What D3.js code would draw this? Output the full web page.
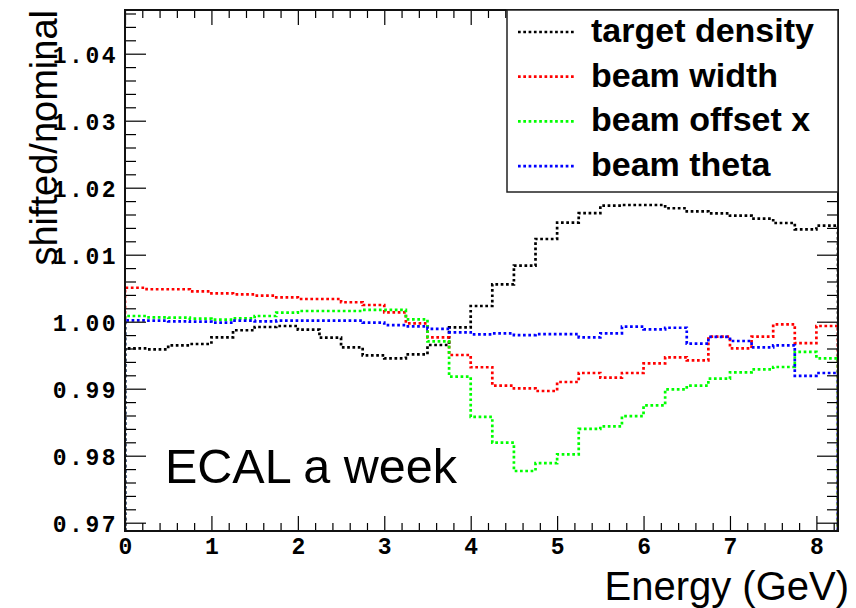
<!DOCTYPE html>
<html>
<head>
<meta charset="utf-8">
<script src="https://cdn.jsdelivr.net/npm/d3@7"></script>
<style>
  html, body { margin: 0; padding: 0; background: #fff; }
  svg { display: block; }
</style>
</head>
<body>
<svg id="chart"></svg>
<script>
const width = 856;
const height = 608;

// DATA
// histogram bin edges (GeV)
const binEdges = [0, 0.25, 0.5, 0.75, 1, 1.25, 1.5, 1.75, 2, 2.25, 2.5, 2.75, 3, 3.25,
  3.5, 3.75, 4, 4.25, 4.5, 4.75, 5, 5.25, 5.5, 5.75, 6, 6.25, 6.5, 6.75, 7, 7.25,
  7.5, 7.75, 8, 8.25];

const targetDensity = [0.99603, 0.99588, 0.99648, 0.99667, 0.99767, 0.99872, 0.99921, 0.99936,
  0.99881, 0.99761, 0.99618, 0.99498, 0.99454, 0.99513, 0.99652, 0.99916, 1.00234, 1.00558,
  1.00836, 1.01234, 1.01478, 1.01620, 1.01731, 1.01742, 1.01742, 1.01693, 1.01648, 1.01618,
  1.01582, 1.01537, 1.01473, 1.01379, 1.01433];

const beamWidth = [1.00507, 1.00484, 1.00484, 1.00454, 1.00424, 1.00409, 1.00390, 1.00364,
  1.00339, 1.00339, 1.00290, 1.00249, 1.00140, 0.99976, 0.99767, 0.99503, 0.99320, 0.99045,
  0.99006, 0.98966, 0.99100, 0.99234, 0.99164, 0.99234, 0.99379, 0.99469, 0.99424, 0.99776,
  0.99603, 0.99776, 0.99961, 0.99680, 0.99936];

const beamOffsetX = [1.00085, 1.00066, 1.00060, 1.00045, 1.00030, 1.00050, 1.00085, 1.00134,
  1.00160, 1.00160, 1.00160, 1.00175, 1.00175, 1.00036, 0.99707, 0.99179, 0.98578, 0.98194,
  0.97772, 0.97888, 0.98020, 0.98400, 0.98439, 0.98590, 0.98752, 0.98991, 0.99045, 0.99149,
  0.99245, 0.99287, 0.99324, 0.99550, 0.99454];

const beamTheta = [1.00021, 1.00015, 1.00006, 1.00000, 0.99985, 1.00015, 1.00006, 1.00015,
  1.00015, 1.00015, 1.00015, 0.99985, 0.99950, 0.99931, 0.99894, 0.99842, 0.99812, 0.99827,
  0.99801, 0.99816, 0.99816, 0.99767, 0.99827, 0.99925, 0.99886, 0.99910, 0.99672, 0.99772,
  0.99712, 0.99618, 0.99648, 0.99192, 0.99234];

const seriesNames = ['target density', 'beam width', 'beam offset x', 'beam theta'];
const seriesColors = ['#000000', '#ff0000', '#00ff00', '#0000ff'];
const seriesValues = [targetDensity, beamWidth, beamOffsetX, beamTheta];

// tick values
const xMajorTicks = [0, 1, 2, 3, 4, 5, 6, 7, 8];
const yMajorTicks = [0.97, 0.98, 0.99, 1.00, 1.01, 1.02, 1.03, 1.04];

// LAYOUT
const frame = { left: 125, right: 838, top: 10, bottom: 531 };

const svg = d3.select('#chart')
  .attr('width', width)
  .attr('height', height)
  .style('font-family', '"Liberation Sans", Arial, sans-serif');

const x = d3.scaleLinear()
  .domain([0, 8.25])
  .range([frame.left, frame.right]);

const y = d3.scaleLinear()
  .domain([0.968761, 1.046522])
  .range([frame.bottom, frame.top]);

// minor ticks: 5 subdivisions
const xMinorTicks = d3.range(0, 8.25, 0.2).filter(v => Math.abs(v - Math.round(v)) > 1e-6);
const yMinorTicks = d3.range(0.97, 1.0465, 0.002).filter(v => Math.abs(v * 100 - Math.round(v * 100)) > 1e-6);

// clip to frame
svg.append('clipPath')
  .attr('id', 'frame-clip')
  .append('rect')
  .attr('x', frame.left)
  .attr('y', frame.top)
  .attr('width', frame.right - frame.left)
  .attr('height', frame.bottom - frame.top);

// HISTOGRAMS
const stepLine = d3.line().x(d => x(d[0])).y(d => y(d[1]));

const histPoints = values => {
  const yLow = y.domain()[0];
  const pts = [[binEdges[0], yLow]];
  values.forEach((v, i) => {
    pts.push([binEdges[i], v]);
    pts.push([binEdges[i + 1], v]);
  });
  pts.push([binEdges[binEdges.length - 1], yLow]);
  return pts;
};

svg.append('g')
  .attr('clip-path', 'url(#frame-clip)')
  .selectAll('path')
  .data(seriesValues)
  .enter()
  .append('path')
    .attr('d', d => stepLine(histPoints(d)))
    .attr('fill', 'none')
    .attr('stroke', (d, i) => seriesColors[i])
    .attr('stroke-width', 2.7)
    .attr('stroke-dasharray', '2.7,2.6');

// AXES
const styleAxis = g => {
  g.select('.domain').remove();
  g.selectAll('line').attr('stroke', '#000').attr('stroke-width', 1.2);
};

const tickFont = g => g.selectAll('text')
  .attr('fill', '#000')
  .style('font-family', '"Liberation Mono", "Courier New", monospace')
  .style('font-weight', 'bold')
  .style('font-size', '23px')
  .style('letter-spacing', '2.5px');

// left
svg.append('g')
  .attr('transform', `translate(${frame.left},0)`)
  .call(d3.axisLeft(y).tickValues(yMajorTicks).tickSizeInner(-21).tickSizeOuter(0)
    .tickPadding(7).tickFormat(d3.format('.2f')))
  .call(styleAxis)
  .call(tickFont)
  .call(g => g.selectAll('text').attr('dy', '0.38em'));
svg.append('g')
  .attr('transform', `translate(${frame.left},0)`)
  .call(d3.axisLeft(y).tickValues(yMinorTicks).tickSizeInner(-11).tickSizeOuter(0).tickFormat(''))
  .call(styleAxis);

// right
svg.append('g')
  .attr('transform', `translate(${frame.right},0)`)
  .call(d3.axisRight(y).tickValues(yMajorTicks).tickSizeInner(-21).tickSizeOuter(0).tickFormat(''))
  .call(styleAxis);
svg.append('g')
  .attr('transform', `translate(${frame.right},0)`)
  .call(d3.axisRight(y).tickValues(yMinorTicks).tickSizeInner(-11).tickSizeOuter(0).tickFormat(''))
  .call(styleAxis);

// bottom
svg.append('g')
  .attr('transform', `translate(0,${frame.bottom})`)
  .call(d3.axisBottom(x).tickValues(xMajorTicks).tickSizeInner(-15).tickSizeOuter(0)
    .tickPadding(10).tickFormat(d3.format('d')))
  .call(styleAxis)
  .call(tickFont)
  .call(g => g.selectAll('text').attr('y', 23).attr('dy', 0).attr('dx', '1.25px'));
svg.append('g')
  .attr('transform', `translate(0,${frame.bottom})`)
  .call(d3.axisBottom(x).tickValues(xMinorTicks).tickSizeInner(-8).tickSizeOuter(0).tickFormat(''))
  .call(styleAxis);

// top
svg.append('g')
  .attr('transform', `translate(0,${frame.top})`)
  .call(d3.axisTop(x).tickValues(xMajorTicks).tickSizeInner(-15).tickSizeOuter(0).tickFormat(''))
  .call(styleAxis);
svg.append('g')
  .attr('transform', `translate(0,${frame.top})`)
  .call(d3.axisTop(x).tickValues(xMinorTicks).tickSizeInner(-8).tickSizeOuter(0).tickFormat(''))
  .call(styleAxis);

// frame
svg.append('rect')
  .attr('x', frame.left)
  .attr('y', frame.top)
  .attr('width', frame.right - frame.left)
  .attr('height', frame.bottom - frame.top)
  .attr('fill', 'none')
  .attr('stroke', '#111')
  .attr('stroke-width', 2);

// axis titles
svg.append('text')
  .attr('transform', 'translate(57,10) rotate(-90)')
  .attr('text-anchor', 'end')
  .style('font-size', '38px')
  .text('shifted/nominal');

svg.append('text')
  .attr('x', 849)
  .attr('y', 600)
  .attr('text-anchor', 'end')
  .style('font-size', '40px')
  .text('Energy (GeV)');

svg.append('text')
  .attr('x', 165)
  .attr('y', 483)
  .style('font-size', '48.5px')
  .text('ECAL a week');

// LEGEND
const legend = svg.append('g');
legend.append('rect')
  .attr('x', 507)
  .attr('y', 10)
  .attr('width', 838 - 507)
  .attr('height', 182)
  .attr('fill', '#fff')
  .attr('stroke', '#222')
  .attr('stroke-width', 1.5);

const entries = legend.selectAll('.entry')
  .data(seriesNames)
  .enter()
  .append('g')
    .classed('entry', true)
    .attr('transform', (d, i) => `translate(0,${42 + i * 44.7})`);

entries.append('line')
  .attr('x1', 518)
  .attr('x2', 575)
  .attr('y1', -10)
  .attr('y2', -10)
  .attr('stroke', (d, i) => seriesColors[i])
  .attr('stroke-width', 2.7)
  .attr('stroke-dasharray', '2.7,2.6');

entries.append('text')
  .attr('x', 591)
  .style('font-size', '34px')
  .style('font-weight', 'bold')
  .text(d => d);
</script>
</body>
</html>
